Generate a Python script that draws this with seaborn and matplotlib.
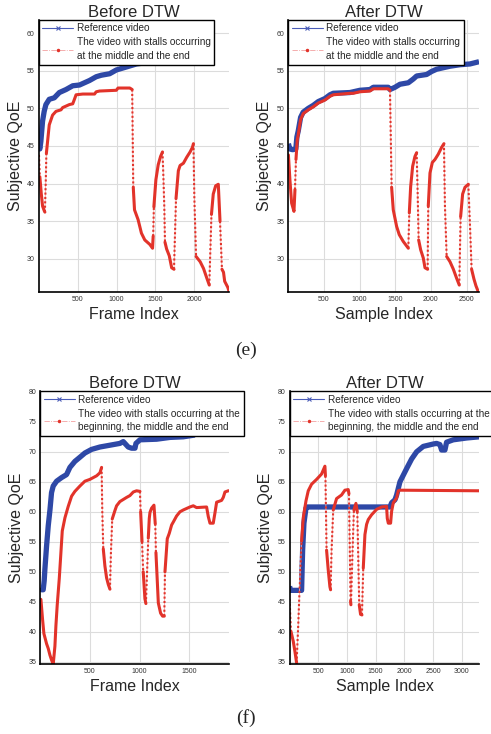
"""
QoE curves of a reference video and a stalled video, before and after
dynamic time warping (DTW). Two cases: (e) stalls in the middle and end,
(f) stalls at the beginning, middle and end.
"""

import numpy as np
import pandas as pd
import matplotlib
matplotlib.use('Agg')
import matplotlib.pyplot as plt
from matplotlib.lines import Line2D
import seaborn as sns

# ==================================================================
# DATA
# ==================================================================

# --- (e) before DTW, x = frame index ---
e_before_ref_x = [1, 12, 25, 47, 68, 90, 133, 198, 263, 349, 435, 522, 608, 651,
                  737, 802, 910, 996, 1126, 1255, 1400, 1500, 1620]
e_before_ref_y = [45.0, 44.6, 45.6, 48.3, 49.6, 50.5, 51.2, 51.4, 52.1, 52.5, 53.0,
                  53.1, 53.5, 53.7, 54.2, 54.4, 54.6, 55.1, 55.5, 55.9, 56.1, 56.3, 56.5]
e_before_stall_x = [1, 12, 30, 47, 68, 77, 89, 96, 133, 176, 220, 284, 306, 392, 435,
                    457, 478, 565, 716, 737, 780, 996, 1018, 1169, 1200, 1208, 1214,
                    1230, 1276, 1319, 1362, 1427, 1462, 1470, 1479, 1505, 1535, 1565,
                    1590, 1600, 1613, 1622, 1643, 1677, 1708, 1738, 1764, 1794, 1816,
                    1859, 1902, 1945, 1975, 1988, 2000, 2022, 2075, 2118, 2161, 2192,
                    2220, 2243, 2274, 2308, 2330, 2355, 2375, 2390, 2410, 2430, 2445]
e_before_stall_y = [43.8, 40.9, 38.7, 37.0, 36.4, 36.2, 40.6, 44.0, 47.8, 49.1, 49.6,
                    49.8, 50.1, 50.5, 50.6, 51.2, 51.8, 51.9, 51.9, 52.2, 52.3, 52.4,
                    52.7, 52.7, 52.5, 45.0, 39.5, 36.5, 35.2, 33.4, 32.5, 31.9, 31.4,
                    33.0, 36.9, 40.5, 42.5, 43.6, 44.2, 41.4, 37.0, 32.2, 31.3, 30.4,
                    28.8, 28.6, 38.0, 41.7, 42.4, 42.7, 43.5, 44.2, 44.8, 45.3, 38.0,
                    30.3, 29.6, 28.7, 27.4, 26.5, 35.9, 38.6, 39.7, 39.9, 35.0, 28.6,
                    28.2, 27.0, 26.6, 26.2, 25.7]

# --- (e) after DTW, x = sample index ---
e_after_ref_x = [1, 20, 60, 105, 120, 139, 172, 209, 280, 350, 420, 467, 513, 584,
                 630, 864, 911, 1004, 1145, 1192, 1402, 1426, 1496, 1566, 1683, 1753,
                 1800, 1940, 2010, 2080, 2174, 2268, 2408, 2548, 2675]
e_after_ref_y = [45.3, 44.6, 44.5, 44.6, 46.2, 47.0, 48.8, 49.5, 50.0, 50.4, 50.9,
                 51.1, 51.3, 51.8, 52.0, 52.1, 52.2, 52.4, 52.5, 52.8, 52.8, 52.5,
                 52.8, 53.2, 53.4, 53.9, 54.3, 54.5, 54.9, 55.2, 55.4, 55.6, 55.8,
                 55.9, 56.2]
e_after_stall_x = [1, 22, 46, 79, 93, 107, 125, 139, 172, 209, 280, 350, 420, 467,
                   513, 584, 630, 864, 911, 1004, 1145, 1192, 1402, 1426, 1449, 1472,
                   1519, 1556, 1612, 1683, 1697, 1716, 1744, 1776, 1800, 1813, 1828,
                   1856, 1893, 1917, 1954, 1963, 1987, 2020, 2057, 2103, 2150, 2183,
                   2197, 2221, 2268, 2315, 2361, 2398, 2417, 2445, 2478, 2525, 2548,
                   2571, 2604, 2632, 2665]
e_after_stall_y = [43.8, 40.5, 37.4, 36.3, 39.2, 43.2, 45.8, 46.5, 48.5, 49.3, 49.8,
                   50.2, 50.7, 50.9, 51.1, 51.6, 51.8, 52.0, 52.0, 52.2, 52.3, 52.6,
                   52.6, 52.4, 39.5, 36.5, 34.3, 33.2, 32.3, 31.4, 36.1, 39.6, 42.3,
                   43.6, 44.1, 39.2, 32.5, 31.2, 30.1, 28.8, 28.6, 37.0, 41.4, 42.8,
                   43.2, 43.9, 44.8, 45.3, 37.0, 30.3, 29.6, 28.6, 27.4, 26.5, 35.6,
                   38.6, 39.5, 39.9, 34.5, 28.6, 27.3, 26.4, 25.6]

# --- (f) before DTW ---
f_before_ref_x = [1, 15, 30, 40, 47, 64, 81, 98, 114, 131, 165, 215, 265, 299, 349,
                  400, 450, 517, 601, 702, 802, 836, 886, 920, 954, 964, 1004, 1172,
                  1306, 1440, 1557]
f_before_ref_y = [47.3, 47.0, 47.0, 48.5, 50.4, 54.3, 57.7, 60.3, 63.2, 64.3, 65.1,
                  65.7, 66.2, 67.4, 68.4, 69.1, 69.8, 70.4, 70.8, 71.1, 71.4, 71.7,
                  70.8, 70.6, 70.6, 71.4, 72.0, 72.1, 72.4, 72.5, 72.8]
f_before_stall_x = [1, 7, 24, 37, 64, 81, 98, 114, 131, 148, 158, 171, 192, 205, 222,
                    249, 282, 316, 349, 400, 450, 500, 568, 601, 618, 625, 635, 651,
                    668, 685, 702, 712, 725, 752, 769, 802, 870, 903, 937, 970, 1004,
                    1011, 1025, 1037, 1054, 1064, 1077, 1088, 1098, 1105, 1121, 1145,
                    1158, 1165, 1189, 1212, 1232, 1249, 1256, 1279, 1299, 1323, 1340,
                    1373, 1407, 1440, 1507, 1541, 1574, 1675, 1692, 1709, 1742, 1759,
                    1776, 1826, 1843, 1860, 1893, 1904]
f_before_stall_y = [45.4, 45.4, 42.0, 39.7, 38.0, 37.2, 36.1, 35.3, 34.6, 37.6, 41.0,
                    44.4, 48.9, 52.3, 56.8, 59.0, 60.9, 62.6, 63.4, 64.3, 65.1, 65.4,
                    66.0, 66.5, 67.4, 60.0, 53.8, 51.0, 49.0, 47.9, 47.1, 53.2, 58.8,
                    60.2, 61.0, 61.7, 62.4, 62.7, 63.3, 63.5, 63.4, 60.0, 55.0, 50.0,
                    45.5, 44.7, 50.5, 55.6, 58.9, 59.9, 60.6, 61.1, 58.0, 53.2, 44.8,
                    43.1, 42.6, 42.6, 50.0, 55.5, 56.4, 57.8, 58.3, 59.3, 60.0, 60.3,
                    60.8, 61.0, 60.7, 60.8, 59.2, 58.1, 58.1, 59.8, 61.6, 61.9, 62.4,
                    63.3, 63.5, 63.5]

# --- (f) after DTW ---
f_after_ref_x = [1, 10, 60, 120, 210, 228, 251, 286, 309, 1749, 1778, 1836, 1865,
                 1894, 1923, 1981, 2039, 2126, 2213, 2329, 2503, 2561, 2619, 2648,
                 2706, 2735, 2851, 3083, 3305]
f_after_ref_y = [47.6, 46.9, 46.9, 46.9, 46.9, 53.6, 58.1, 60.6, 60.8, 60.8, 61.5,
                 62.0, 62.8, 63.9, 65.0, 66.1, 67.2, 68.8, 70.0, 70.9, 71.3, 71.4,
                 71.2, 70.3, 70.3, 71.6, 72.0, 72.3, 72.5]
f_after_stall_x = [1, 24, 65, 94, 123, 152, 169, 193, 210, 239, 286, 326, 384, 471,
                   558, 616, 625, 645, 674, 703, 715, 732, 761, 819, 906, 964, 1022,
                   1035, 1063, 1069, 1098, 1121, 1156, 1180, 1214, 1237, 1261, 1284,
                   1313, 1342, 1371, 1429, 1516, 1603, 1690, 1702, 1720, 1760, 1778,
                   1807, 1865, 1894, 1923, 3305]
f_after_stall_y = [45.4, 40.1, 38.4, 36.7, 34.8, 41.2, 45.6, 51.2, 55.1, 59.0, 61.8,
                   63.5, 64.6, 65.4, 66.3, 67.6, 66.0, 53.6, 50.3, 47.5, 47.0, 53.6,
                   60.3, 62.2, 62.8, 63.6, 63.7, 63.0, 45.1, 44.5, 53.6, 60.3, 61.4,
                   60.0, 44.5, 42.9, 42.8, 50.6, 56.2, 57.9, 58.7, 59.5, 60.4, 60.8,
                   60.9, 58.9, 58.1, 58.1, 60.1, 61.5, 62.3, 63.5, 63.6, 63.5]

legend_ref = 'Reference video'
legend_e = 'The video with stalls occurring\nat the middle and the end'
legend_f = 'The video with stalls occurring at the\nbeginning, the middle and the end'

# ==================================================================
# STYLE
# ==================================================================
sns.set_style('whitegrid')
plt.rcParams['font.family'] = ['Liberation Sans', 'DejaVu Sans']

BLUE = '#2e48a6'
RED = '#e2332a'
FIG_W, FIG_H = 491, 734

fig = plt.figure(figsize=(FIG_W / 100, FIG_H / 100), dpi=100)


def split_steep(xs, ys, px_per_x, px_per_y, thresh=22.0):
    """Cut a curve into runs of gentle and steep segments (steep ones are
    drawn dotted, like the sparse samples of a sudden QoE drop)."""
    gentle, steep = [], []
    gid = sid = -1
    prev = None
    for i in range(len(xs) - 1):
        dx = abs(xs[i + 1] - xs[i]) * px_per_x
        dy = abs(ys[i + 1] - ys[i]) * px_per_y
        is_steep = dy > thresh * max(dx, 1e-6)
        if is_steep != prev:
            if is_steep:
                sid += 1
            else:
                gid += 1
        rows, uid = (steep, sid) if is_steep else (gentle, gid)
        rows.append((xs[i], ys[i], uid))
        rows.append((xs[i + 1], ys[i + 1], uid))
        prev = is_steep
    cols = ['x', 'y', 'u']
    return (pd.DataFrame(gentle, columns=cols).drop_duplicates(),
            pd.DataFrame(steep, columns=cols).drop_duplicates())


def draw_panel(rect, ref_x, ref_y, st_x, st_y, title, xlabel, stall_label,
               xlim, ylim, xticks, yticks):
    ax = fig.add_axes(rect)
    px_per_x = rect[2] * FIG_W / (xlim[1] - xlim[0])
    px_per_y = rect[3] * FIG_H / (ylim[1] - ylim[0])

    ref = pd.DataFrame({'x': ref_x, 'y': ref_y})
    sns.lineplot(data=ref, x='x', y='y', ax=ax, color=BLUE, lw=3.8,
                 estimator=None, sort=False, solid_capstyle='butt')

    # thin connecting line under the stalled-video samples
    st = pd.DataFrame({'x': st_x, 'y': st_y})
    sns.lineplot(data=st, x='x', y='y', ax=ax, color='#f3a3a0', lw=0.6,
                 estimator=None, sort=False)
    gentle, steep = split_steep(st_x, st_y, px_per_x, px_per_y)
    sns.lineplot(data=gentle, x='x', y='y', units='u', ax=ax, color=RED,
                 lw=2.2, estimator=None, sort=False)
    if len(steep):
        sns.lineplot(data=steep, x='x', y='y', units='u', ax=ax, color=RED,
                     lw=1.5, estimator=None, sort=False,
                     linestyle=(0, (1.0, 1.1)))

    ax.set_xlim(*xlim)
    ax.set_ylim(*ylim)
    ax.set_xticks(xticks)
    ax.set_yticks(yticks)
    ax.grid(True, color='#dcdcdc', lw=0.8)
    ax.tick_params(labelsize=5, colors='#333333', length=0, pad=3)
    for side in ['top', 'right']:
        ax.spines[side].set_visible(False)
    for side in ['left', 'bottom']:
        ax.spines[side].set_color('black')
        ax.spines[side].set_linewidth(1.2)
    ax.set_title(title, fontsize=12, pad=2)
    ax.set_xlabel(xlabel, fontsize=11.5, labelpad=3)
    ax.set_ylabel('Subjective QoE', fontsize=11.5, labelpad=3)

    handles = [
        Line2D([], [], color='#4a5cb8', lw=0.8, marker='x', ms=3, mew=0.8),
        Line2D([], [], color='#f2a0a0', lw=0.6, ls='-.', marker='.', ms=3,
               mfc=RED, mec=RED),
    ]
    leg = ax.legend(handles, [legend_ref, stall_label], loc='upper left',
                    bbox_to_anchor=(0, 1), borderaxespad=0, fontsize=7.2,
                    frameon=True, fancybox=False, framealpha=1,
                    edgecolor='black', handlelength=3.1, handletextpad=0.35,
                    borderpad=0.35, labelspacing=0.4)
    leg.get_frame().set_linewidth(1.0)
    for t in leg.get_texts():
        t.set_linespacing(1.45)
    leg.set_zorder(10)
    return ax


# --- (e) ---
draw_panel([0.0794, 0.6022, 0.3880, 0.3706], e_before_ref_x, e_before_ref_y,
           e_before_stall_x, e_before_stall_y, 'Before DTW', 'Frame Index',
           legend_e, (1, 2452), (25.58, 61.75), [500, 1000, 1500, 2000],
           [30, 35, 40, 45, 50, 55, 60])
draw_panel([0.5874, 0.6022, 0.3882, 0.3706], e_after_ref_x, e_after_ref_y,
           e_after_stall_x, e_after_stall_y, 'After DTW', 'Sample Index',
           legend_e, (1, 2675), (25.58, 61.75), [500, 1000, 1500, 2000, 2500],
           [30, 35, 40, 45, 50, 55, 60])

# --- (f) ---
draw_panel([0.0821, 0.0960, 0.3850, 0.3710], f_before_ref_x, f_before_ref_y,
           f_before_stall_x, f_before_stall_y, 'Before DTW', 'Frame Index',
           legend_f, (1, 1904), (34.7, 80.1), [500, 1000, 1500],
           [35, 40, 45, 50, 55, 60, 65, 70, 75, 80])
draw_panel([0.5898, 0.0960, 0.3864, 0.3710], f_after_ref_x, f_after_ref_y,
           f_after_stall_x, f_after_stall_y, 'After DTW', 'Sample Index',
           legend_f, (1, 3305), (34.7, 80.1), [500, 1000, 1500, 2000, 2500, 3000],
           [35, 40, 45, 50, 55, 60, 65, 70, 75, 80])

fig.text(0.5, 1 - 350 / 734, '(e)', ha='center', va='center', fontsize=14,
         family=['Liberation Serif', 'DejaVu Serif'])
fig.text(0.5, 1 - 718 / 734, '(f)', ha='center', va='center', fontsize=14,
         family=['Liberation Serif', 'DejaVu Serif'])

fig.savefig('out.png', dpi=100)
plt.close(fig)
